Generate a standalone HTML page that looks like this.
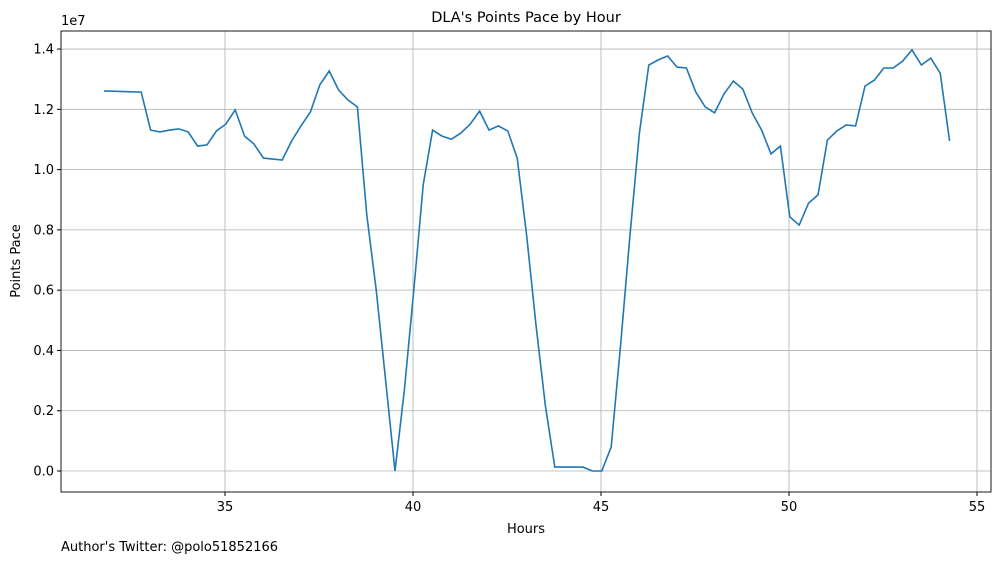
<!DOCTYPE html>
<html><head><meta charset="utf-8"><style>
body{margin:0;background:#fff}
svg{display:block;font-family:"DejaVu Sans","Liberation Sans",sans-serif}
</style></head><body>
<svg id="chart" width="1001" height="562" viewBox="0 0 1001 562">
<rect width="1001" height="562" fill="#fff"/>
<text x="526" y="22" text-anchor="middle" font-size="14.5">DLA's Points Pace by Hour</text>
<g id="grid"></g>
<g id="ticks"></g>
<path id="line" fill="none" stroke="#1f77b4" stroke-width="1.6"/>
<rect x="61" y="31" width="930" height="461" fill="none" stroke="#000" stroke-width="0.9"/>
<text x="61" y="25" font-size="13">1e7</text>
<text x="526" y="533" text-anchor="middle" font-size="13">Hours</text>
<text transform="translate(20,261) rotate(-90)" text-anchor="middle" font-size="13">Points Pace</text>
<text x="61" y="551" font-size="13">Author's Twitter: @polo51852166</text>
</svg>
<script>
const firstHour = 31.78;
const startHour = 32.77;
const hourStep = 0.25;
const firstValue = 1.261;
const values = [1.257,1.131,1.125,1.131,1.135,1.125,1.078,1.082,1.128,1.151,1.198,1.111,1.085,1.038,1.035,1.032,1.095,1.145,1.191,1.281,1.327,1.264,1.231,1.208,
0.849,0.601,0.302,0,0.269,0.601,0.949,1.131,1.111,1.101,1.121,1.151,1.194,1.131,1.145,1.128,
1.038,0.783,0.484,0.216,0.013,0.013,0.013,0.013,0,0,
0.080,0.418,0.783,1.121,1.347,1.364,1.377,1.340,1.337,1.257,1.208,
1.188,1.251,1.294,1.267,1.188,1.131,1.052,1.078,0.843,
0.816,0.889,0.916,1.098,1.128,1.148,1.145,
1.277,1.297,1.337,1.337,1.360,1.397,1.347,1.370,1.320,1.095];
const xTicks = [35,40,45,50,55];
const yTicks = [0,0.2,0.4,0.6,0.8,1.0,1.2,1.4];
const NS="http://www.w3.org/2000/svg";
const X = h => 225 + (h-35)*37.6;
const Y = v => 471 - v*301.4;
const grid=document.getElementById('grid'), ticks=document.getElementById('ticks');
function mk(tag,attrs,parent){const e=document.createElementNS(NS,tag);for(const k in attrs)e.setAttribute(k,attrs[k]);parent.appendChild(e);return e;}
xTicks.forEach(t=>{
  const x=X(t);
  const g=mk('line',{x1:x,x2:x,y1:31,y2:492,stroke:'#b0b0b0','stroke-width':0.8},grid);
  
  
  const tk=mk('line',{x1:x,x2:x,y1:492,y2:496,stroke:'#000'},ticks);
  
  
  const tx=mk('text',{x:x,y:511,'text-anchor':'middle','font-size':13},ticks);
  tx.textContent=t;
  
  
});
yTicks.forEach(t=>{
  const y=Y(t);
  const g=mk('line',{x1:61,x2:991,y1:y,y2:y,stroke:'#b0b0b0','stroke-width':0.8},grid);
  
  
  const tk=mk('line',{x1:57,x2:61,y1:y,y2:y,stroke:'#000'},ticks);
  
  
  const tx=mk('text',{x:54,y:y+4.5,'text-anchor':'end','font-size':13},ticks);
  tx.textContent=t.toFixed(1);
  
  
});
let d='M'+X(firstHour).toFixed(1)+','+Y(firstValue).toFixed(1);
values.forEach((v,i)=>{d+=' L'+X(startHour+i*hourStep).toFixed(1)+','+Y(v).toFixed(1);});
document.getElementById('line').setAttribute('d',d);
</script>
</body></html>
